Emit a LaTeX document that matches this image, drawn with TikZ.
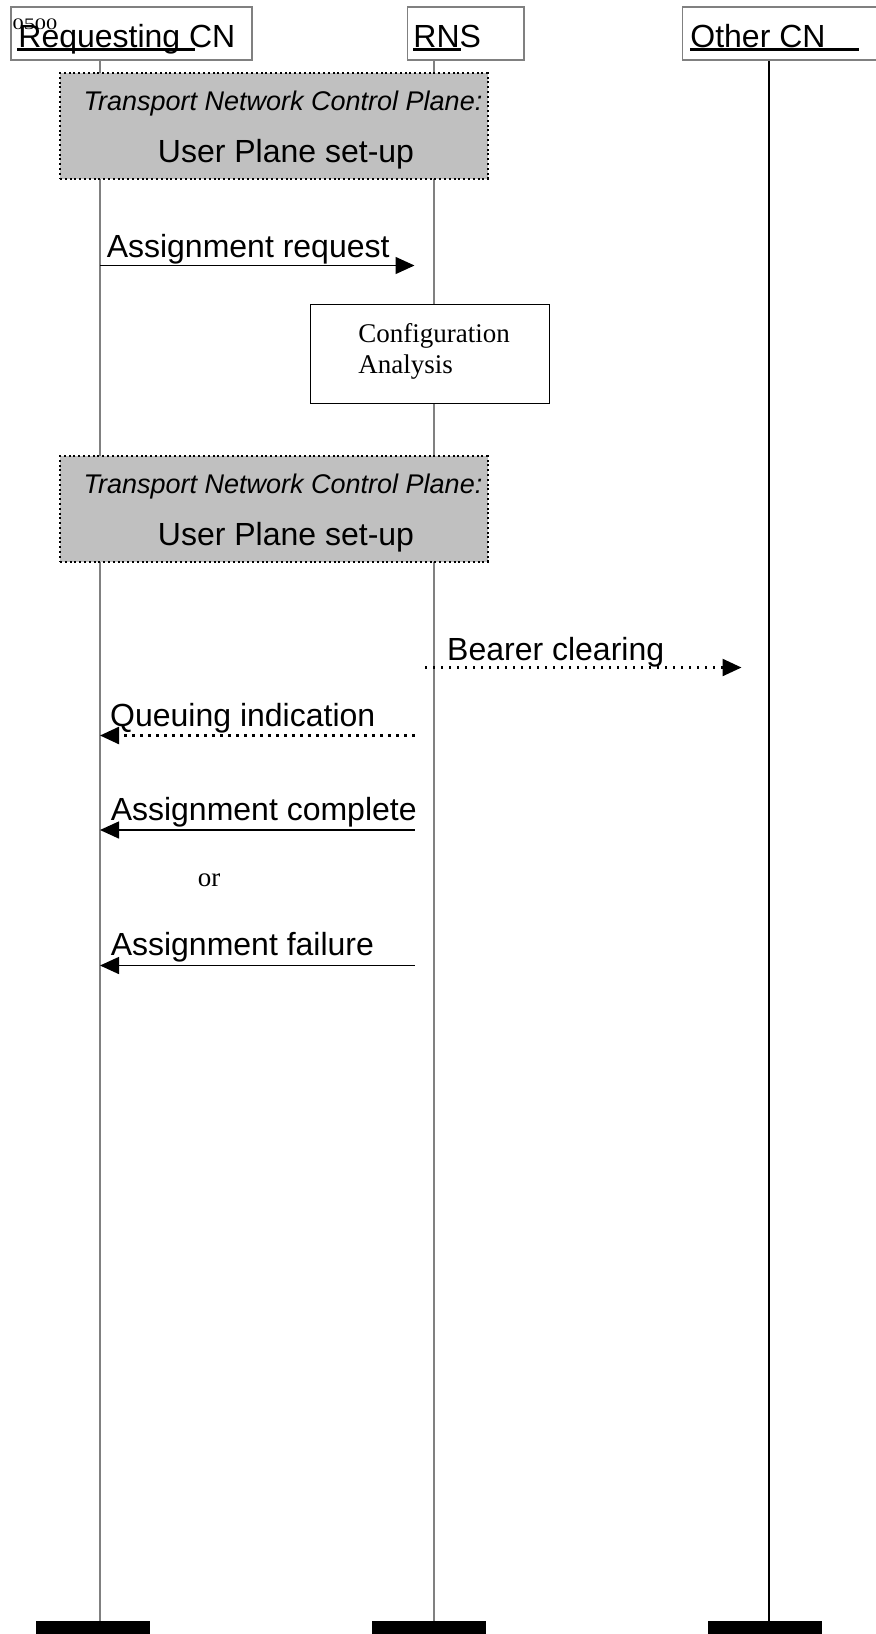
\documentclass[tikz,border=0pt]{standalone}
\usepackage{fontspec}
\setmainfont{Liberation Serif}
\setsansfont{Liberation Sans}
\usetikzlibrary{arrows.meta}
\definecolor{planegray}{RGB}{192,192,192}
\definecolor{linegray}{RGB}{128,128,128}
\tikzset{
	hdrbox/.style={draw=linegray, line width=0.6pt, fill=white, inner sep=0pt},
	hdr/.style={font=\sffamily\fontsize{16}{19}\selectfont, anchor=base west, inner sep=0pt},
	uline/.style={line width=1.5pt},
	life/.style={line width=0.6pt},
	tncp/.style={draw, fill=planegray, line width=1pt, dash pattern=on 1pt off 1.4pt,
		minimum width=213.75pt, minimum height=53pt, inner sep=0pt},
	tncpit/.style={font=\sffamily\itshape\fontsize{13.5}{16}\selectfont, anchor=base, inner sep=0pt},
	tncptxt/.style={font=\sffamily\fontsize{16}{19}\selectfont, anchor=base, inner sep=0pt},
	procbox/.style={draw, fill=white, line width=0.5pt, minimum width=119.25pt, minimum height=49.5pt},
	serif/.style={font=\rmfamily\fontsize{13.5}{16}\selectfont, anchor=base west, inner sep=0pt},
	msg/.style={line width=0.75pt, -{Triangle[length=9.5pt,width=8.5pt]}},
	msgdot/.style={msg, line width=1.2pt, dash pattern=on 1.2pt off 2.8pt},
	lbl/.style={font=\sffamily\fontsize{16}{19}\selectfont, anchor=base west, inner sep=0pt}
}
\begin{document}
\begin{tikzpicture}[x=0.5pt, y=-0.5pt]
	\useasboundingbox (0,0) rectangle (876,1634);
	% lifelines and end bars
	\foreach \n/\x/\c in {1/100/linegray, 2/434/linegray, 3/769/black}
	{
		\coordinate (top\n) at (\x,60);
		\coordinate (bot\n) at (\x,1621);
		\draw[life, draw=\c] (top\n) -- (bot\n);
	}
	\foreach \x in {36, 372, 708}
	{
		\fill (\x,1621) rectangle ++(114,16);
	}
	% header boxes
	\node[hdrbox, minimum width=120.5pt, minimum height=26.5pt] (reqbox) at (131.5,33.5) {};
	\node[hdrbox, minimum width=58.25pt, minimum height=26.5pt] (rnsbox) at (465.75,33.5) {};
	\node[hdrbox, minimum width=110pt, minimum height=26.5pt] (otherbox) at (792.7,33.5) {};
	\node[font=\rmfamily\fontsize{8}{9}\selectfont, anchor=base west, inner sep=0pt, xscale=1.4] (num) at (12,29) {0500};
	\node[hdr] (reqcn) at (18,47) {Requesting CN};
	\node[hdr] (rns) at (413,47) {RNS};
	\node[hdr] (othercn) at (690,47) {Other CN};
	\draw[uline] (17,49) -- (195,49);
	\draw[uline] (413,49) -- (461,49);
	\draw[uline] (690,49) -- (859,49);
	% transport network control plane boxes
	\foreach \n/\y in {1/126, 2/509}
	{
		\node[tncp] (tncp\n) at (273.75,\y) {};
		\node[tncpit] (tncpit\n) at (283,\y-15.5) {Transport Network Control Plane:};
		\node[tncptxt] (tncptxt\n) at (286,\y+36.5) {User Plane set-up};
	}
	% configuration analysis
	\node[procbox] (config) at (429.75,353.5) {};
	\node[serif] (configa) at (358,342) {Configuration};
	\node[serif] (configb) at (358,373.5) {Analysis};
	% messages
	\coordinate (arq1) at (100,265.5);
	\coordinate (arq2) at (414.5,265.5);
	\draw[msg] (arq1) -- (arq2) node[lbl, at start, xshift=3pt, yshift=4pt] {Assignment request};
	\coordinate (bcl1) at (425,667.5);
	\coordinate (bcl2) at (741.5,667.5);
	\draw[msgdot] (bcl1) -- (bcl2) node[lbl, at start, xshift=10.5pt, yshift=3.6pt] {Bearer clearing};
	\coordinate (qin1) at (414.5,735.5);
	\coordinate (qin2) at (100,735.5);
	\draw[msgdot] (qin1) -- (qin2) node[lbl, at end, xshift=4.5pt, yshift=4.75pt] {Queuing indication};
	\coordinate (aco1) at (414.5,830);
	\coordinate (aco2) at (100,830);
	\draw[msg] (aco1) -- (aco2) node[lbl, at end, xshift=5pt, yshift=4.75pt] {Assignment complete};
	\node[serif, anchor=base] (or) at (209,886) {or};
	\coordinate (afa1) at (414.5,965.5);
	\coordinate (afa2) at (100,965.5);
	\draw[msg] (afa1) -- (afa2) node[lbl, at end, xshift=5pt, yshift=5pt] {Assignment failure};
\end{tikzpicture}
\end{document}
